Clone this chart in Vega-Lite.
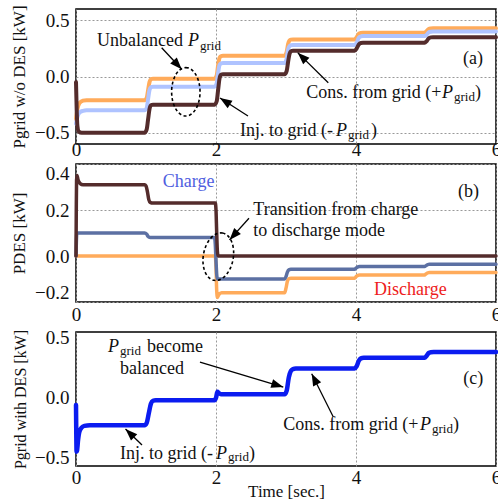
{
  "$schema": "https://vega.github.io/schema/vega-lite/v6.json",
  "background": "white",
  "padding": {"left": 9, "top": 4, "right": 0, "bottom": 0},
  "spacing": 3,
  "config": {
    "font": "Liberation Serif",
    "view": {"stroke": "black", "strokeWidth": 1.5},
    "axis": {
      "labelFont": "Liberation Serif", "labelFontSize": 19, "labelColor": "#111",
      "titleFont": "Liberation Serif", "titleFontSize": 17, "titleFontWeight": "normal", "titleColor": "#111",
      "domain": false, "ticks": false, "grid": true, "gridColor": "#999", "gridDash": [2, 2], "gridWidth": 1
    },
    "text": {"font": "Liberation Serif", "fontSize": 18, "align": "left", "baseline": "alphabetic", "color": "#111"},
    "line": {"strokeCap": "round", "strokeJoin": "round", "interpolate": "monotone", "clip": true}
  },
  "vconcat": [
    {
      "width": 420, "height": 135,
      "layer": [
        {
          "data": {"values": [
            {"t":0,"v":-0.38},{"t":0.02,"v":-0.29},{"t":0.05,"v":-0.235},{"t":0.1,"v":-0.215},{"t":0.15,"v":-0.21},{"t":0.98,"v":-0.21},{"t":1.01,"v":-0.19},{"t":1.03,"v":-0.12},{"t":1.05,"v":-0.05},{"t":1.07,"v":-0.025},{"t":1.1,"v":-0.02},{"t":1.98,"v":-0.02},{"t":2.01,"v":0.01},{"t":2.03,"v":0.1},{"t":2.05,"v":0.165},{"t":2.07,"v":0.18},{"t":2.1,"v":0.185},{"t":2.98,"v":0.185},{"t":3.01,"v":0.22},{"t":3.03,"v":0.29},{"t":3.05,"v":0.32},{"t":3.07,"v":0.328},{"t":3.1,"v":0.33},{"t":3.98,"v":0.33},{"t":4.01,"v":0.35},{"t":4.04,"v":0.38},{"t":4.07,"v":0.388},{"t":4.1,"v":0.39},{"t":4.98,"v":0.39},{"t":5.01,"v":0.405},{"t":5.04,"v":0.423},{"t":5.07,"v":0.428},{"t":5.1,"v":0.43},{"t":6,"v":0.43}
          ]},
          "mark": {"type": "line", "color": "#FFAB5B", "strokeWidth": 4},
          "encoding": {
            "x": {"field": "t", "type": "quantitative", "scale": {"domain": [0, 6], "nice": false, "zero": false}, "axis": {"values": [0, 2, 4, 6], "format": "d", "title": null, "labelPadding": -4, "labelFlush": false}},
            "y": {"field": "v", "type": "quantitative", "scale": {"domain": [-0.6, 0.6], "nice": false, "zero": false}, "axis": {"values": [-0.5, 0, 0.5], "format": ".1f", "title": "Pgrid w/o DES [kW]", "labelPadding": 7, "titlePadding": 6}}
          }
        },
        {
          "data": {"values": [
            {"t":0,"v":-0.42},{"t":0.02,"v":-0.36},{"t":0.05,"v":-0.32},{"t":0.1,"v":-0.305},{"t":0.15,"v":-0.3},{"t":0.98,"v":-0.3},{"t":1.01,"v":-0.28},{"t":1.03,"v":-0.2},{"t":1.05,"v":-0.12},{"t":1.07,"v":-0.095},{"t":1.1,"v":-0.09},{"t":1.98,"v":-0.09},{"t":2.01,"v":-0.06},{"t":2.03,"v":0.03},{"t":2.05,"v":0.1},{"t":2.07,"v":0.115},{"t":2.1,"v":0.12},{"t":2.98,"v":0.12},{"t":3.01,"v":0.16},{"t":3.03,"v":0.24},{"t":3.05,"v":0.27},{"t":3.07,"v":0.278},{"t":3.1,"v":0.28},{"t":3.98,"v":0.28},{"t":4.01,"v":0.3},{"t":4.04,"v":0.345},{"t":4.07,"v":0.357},{"t":4.1,"v":0.36},{"t":4.98,"v":0.36},{"t":5.01,"v":0.372},{"t":5.04,"v":0.393},{"t":5.07,"v":0.398},{"t":5.1,"v":0.4},{"t":6,"v":0.4}
          ]},
          "mark": {"type": "line", "color": "#AFC3FF", "strokeWidth": 4},
          "encoding": {
            "x": {"field": "t", "type": "quantitative", "scale": {"domain": [0, 6], "nice": false, "zero": false}},
            "y": {"field": "v", "type": "quantitative", "scale": {"domain": [-0.6, 0.6], "nice": false, "zero": false}}
          }
        },
        {
          "data": {"values": [
            {"t":0,"v":-0.05},{"t":0.01,"v":-0.3},{"t":0.02,"v":-0.44},{"t":0.04,"v":-0.49},{"t":0.08,"v":-0.5},{"t":0.98,"v":-0.5},{"t":1.01,"v":-0.47},{"t":1.03,"v":-0.38},{"t":1.05,"v":-0.29},{"t":1.07,"v":-0.255},{"t":1.1,"v":-0.25},{"t":1.98,"v":-0.25},{"t":2.01,"v":-0.22},{"t":2.03,"v":-0.12},{"t":2.05,"v":-0.02},{"t":2.07,"v":0.015},{"t":2.1,"v":0.02},{"t":2.98,"v":0.02},{"t":3.01,"v":0.05},{"t":3.03,"v":0.13},{"t":3.05,"v":0.2},{"t":3.07,"v":0.225},{"t":3.1,"v":0.23},{"t":3.98,"v":0.23},{"t":4.01,"v":0.25},{"t":4.04,"v":0.285},{"t":4.07,"v":0.298},{"t":4.1,"v":0.3},{"t":4.98,"v":0.3},{"t":5.01,"v":0.315},{"t":5.04,"v":0.34},{"t":5.07,"v":0.348},{"t":5.1,"v":0.35},{"t":6,"v":0.35}
          ]},
          "mark": {"type": "line", "color": "#542C2C", "strokeWidth": 4},
          "encoding": {
            "x": {"field": "t", "type": "quantitative", "scale": {"domain": [0, 6], "nice": false, "zero": false}},
            "y": {"field": "v", "type": "quantitative", "scale": {"domain": [-0.6, 0.6], "nice": false, "zero": false}}
          }
        },
        {
          "mark": {"type": "rule", "color": "#FF2020", "strokeDash": [2, 2], "strokeWidth": 1.5},
          "encoding": {"y": {"datum": 0, "type": "quantitative", "scale": {"domain": [-0.6, 0.6], "nice": false, "zero": false}}}
        },
        {
          "data": {"values": [
            {"t":1.224,"v":0.256,"t2":1.51,"v2":0.064},
            {"t":3.604,"v":-0.055,"t2":3.167,"v2":0.212},
            {"t":2.457,"v":-0.351,"t2":2.057,"v2":-0.191}
          ]},
          "mark": {"type": "rule", "color": "black", "strokeWidth": 1.3},
          "encoding": {
            "x": {"field": "t", "type": "quantitative", "scale": {"domain": [0, 6], "nice": false, "zero": false}},
            "y": {"field": "v", "type": "quantitative", "scale": {"domain": [-0.6, 0.6], "nice": false, "zero": false}},
            "x2": {"field": "t2"}, "y2": {"field": "v2"}
          }
        },
        {
          "data": {"values": [{"t":1.51,"v":0.064}]},
          "mark": {"type": "point", "shape": "M0,0L0.6,1.6L-0.6,1.6Z", "filled": true, "color": "black", "opacity": 1, "size": 225, "angle": 137},
          "encoding": {
            "x": {"field": "t", "type": "quantitative", "scale": {"domain": [0, 6], "nice": false, "zero": false}},
            "y": {"field": "v", "type": "quantitative", "scale": {"domain": [-0.6, 0.6], "nice": false, "zero": false}}
          }
        },
        {
          "data": {"values": [{"t":3.167,"v":0.212}]},
          "mark": {"type": "point", "shape": "M0,0L0.6,1.6L-0.6,1.6Z", "filled": true, "color": "black", "opacity": 1, "size": 225, "angle": -46},
          "encoding": {
            "x": {"field": "t", "type": "quantitative", "scale": {"domain": [0, 6], "nice": false, "zero": false}},
            "y": {"field": "v", "type": "quantitative", "scale": {"domain": [-0.6, 0.6], "nice": false, "zero": false}}
          }
        },
        {
          "data": {"values": [{"t":2.057,"v":-0.191}]},
          "mark": {"type": "point", "shape": "M0,0L0.6,1.6L-0.6,1.6Z", "filled": true, "color": "black", "opacity": 1, "size": 225, "angle": -57},
          "encoding": {
            "x": {"field": "t", "type": "quantitative", "scale": {"domain": [0, 6], "nice": false, "zero": false}},
            "y": {"field": "v", "type": "quantitative", "scale": {"domain": [-0.6, 0.6], "nice": false, "zero": false}}
          }
        },
        {
          "data": {"values": [{"t":1.569,"v":-0.136}]},
          "mark": {"type": "point", "shape": "M0,-1C0.324,-1 0.587,-0.552 0.587,0C0.587,0.552 0.324,1 0,1C-0.324,1 -0.587,0.552 -0.587,0C-0.587,-0.552 -0.324,-1 0,-1Z", "filled": false, "color": "black", "opacity": 1, "strokeWidth": 1.6, "strokeDash": [3, 2.5], "size": 2343},
          "encoding": {
            "x": {"field": "t", "type": "quantitative", "scale": {"domain": [0, 6], "nice": false, "zero": false}},
            "y": {"field": "v", "type": "quantitative", "scale": {"domain": [-0.6, 0.6], "nice": false, "zero": false}}
          }
        },
        {
          "data": {"values": [
            {"t":0.30,"v":0.271,"label":"Unbalanced"},
            {"t":3.29,"v":-0.191,"label":"Cons. from grid (+"},
            {"t":5.7,"v":-0.191,"label":")"},
            {"t":2.343,"v":-0.529,"label":"Inj. to grid (-"},
            {"t":4.214,"v":-0.529,"label":")"},
            {"t":5.529,"v":0.108,"label":"(a)"}
          ]},
          "mark": {"type": "text"},
          "encoding": {
            "x": {"field": "t", "type": "quantitative", "scale": {"domain": [0, 6], "nice": false, "zero": false}},
            "y": {"field": "v", "type": "quantitative", "scale": {"domain": [-0.6, 0.6], "nice": false, "zero": false}},
            "text": {"field": "label"}
          }
        },
        {
          "data": {"values": [
            {"t":1.6,"v":0.271,"label":"P"},
            {"t":5.229,"v":-0.191,"label":"P"},
            {"t":3.714,"v":-0.529,"label":"P"}
          ]},
          "mark": {"type": "text", "fontStyle": "italic"},
          "encoding": {
            "x": {"field": "t", "type": "quantitative", "scale": {"domain": [0, 6], "nice": false, "zero": false}},
            "y": {"field": "v", "type": "quantitative", "scale": {"domain": [-0.6, 0.6], "nice": false, "zero": false}},
            "text": {"field": "label"}
          }
        },
        {
          "data": {"values": [
            {"t":1.771,"v":0.236,"label":"grid"},
            {"t":5.4,"v":-0.218,"label":"grid"},
            {"t":3.886,"v":-0.556,"label":"grid"}
          ]},
          "mark": {"type": "text", "fontSize": 13},
          "encoding": {
            "x": {"field": "t", "type": "quantitative", "scale": {"domain": [0, 6], "nice": false, "zero": false}},
            "y": {"field": "v", "type": "quantitative", "scale": {"domain": [-0.6, 0.6], "nice": false, "zero": false}},
            "text": {"field": "label"}
          }
        }
      ]
    },
    {
      "width": 420, "height": 138,
      "layer": [
        {
          "data": {"values": [
            {"t":0,"v":0},{"t":1.99,"v":0},{"t":2.0,"v":-0.05},{"t":2.01,"v":-0.15},{"t":2.02,"v":-0.18},{"t":2.04,"v":-0.168},{"t":2.08,"v":-0.16},{"t":2.98,"v":-0.16},{"t":3.0,"v":-0.14},{"t":3.02,"v":-0.11},{"t":3.04,"v":-0.099},{"t":3.07,"v":-0.097},{"t":3.98,"v":-0.097},{"t":4.0,"v":-0.09},{"t":4.02,"v":-0.085},{"t":4.05,"v":-0.083},{"t":4.98,"v":-0.083},{"t":5.0,"v":-0.078},{"t":5.02,"v":-0.074},{"t":5.05,"v":-0.072},{"t":6,"v":-0.072}
          ]},
          "mark": {"type": "line", "color": "#FFAB5B", "strokeWidth": 3.5},
          "encoding": {
            "x": {"field": "t", "type": "quantitative", "scale": {"domain": [0, 6], "nice": false, "zero": false}, "axis": {"values": [0, 2, 4, 6], "format": "d", "title": null, "labelPadding": 3, "labelFlush": false}},
            "y": {"field": "v", "type": "quantitative", "scale": {"domain": [-0.2, 0.4], "nice": false, "zero": false}, "axis": {"values": [-0.2, 0, 0.2, 0.4], "format": ".1f", "title": "PDES [kW]", "labelPadding": 7, "titlePadding": 6, "labelFlush": true}}
          }
        },
        {
          "data": {"values": [
            {"t":0,"v":0},{"t":0.005,"v":0.06},{"t":0.01,"v":0.095},{"t":0.02,"v":0.1},{"t":0.98,"v":0.1},{"t":1.01,"v":0.095},{"t":1.03,"v":0.085},{"t":1.05,"v":0.081},{"t":1.08,"v":0.08},{"t":1.98,"v":0.08},{"t":1.99,"v":0.05},{"t":2.0,"v":-0.02},{"t":2.01,"v":-0.08},{"t":2.02,"v":-0.1},{"t":2.98,"v":-0.1},{"t":3.0,"v":-0.09},{"t":3.02,"v":-0.07},{"t":3.04,"v":-0.06},{"t":3.07,"v":-0.058},{"t":3.98,"v":-0.058},{"t":4.0,"v":-0.053},{"t":4.02,"v":-0.048},{"t":4.05,"v":-0.046},{"t":4.98,"v":-0.046},{"t":5.0,"v":-0.042},{"t":5.02,"v":-0.038},{"t":5.05,"v":-0.036},{"t":6,"v":-0.036}
          ]},
          "mark": {"type": "line", "color": "#5C70A3", "strokeWidth": 3.5},
          "encoding": {
            "x": {"field": "t", "type": "quantitative", "scale": {"domain": [0, 6], "nice": false, "zero": false}},
            "y": {"field": "v", "type": "quantitative", "scale": {"domain": [-0.2, 0.4], "nice": false, "zero": false}}
          }
        },
        {
          "data": {"values": [
            {"t":0,"v":0},{"t":0.004,"v":0.2},{"t":0.008,"v":0.33},{"t":0.015,"v":0.35},{"t":0.03,"v":0.33},{"t":0.06,"v":0.315},{"t":0.1,"v":0.31},{"t":0.98,"v":0.31},{"t":1.0,"v":0.305},{"t":1.02,"v":0.28},{"t":1.04,"v":0.245},{"t":1.06,"v":0.233},{"t":1.1,"v":0.23},{"t":1.99,"v":0.23},{"t":2.0,"v":0.2},{"t":2.01,"v":0.1},{"t":2.02,"v":0.02},{"t":2.03,"v":0},{"t":6,"v":0}
          ]},
          "mark": {"type": "line", "color": "#542C2C", "strokeWidth": 3.5},
          "encoding": {
            "x": {"field": "t", "type": "quantitative", "scale": {"domain": [0, 6], "nice": false, "zero": false}},
            "y": {"field": "v", "type": "quantitative", "scale": {"domain": [-0.2, 0.4], "nice": false, "zero": false}}
          }
        },
        {
          "mark": {"type": "rule", "color": "#FF2020", "strokeDash": [2, 2], "strokeWidth": 1.5},
          "encoding": {"y": {"datum": 0, "type": "quantitative", "scale": {"domain": [-0.2, 0.4], "nice": false, "zero": false}}}
        },
        {
          "data": {"values": [{"t":2.471,"v":0.164,"t2":2.193,"v2":0.070}]},
          "mark": {"type": "rule", "color": "black", "strokeWidth": 1.3},
          "encoding": {
            "x": {"field": "t", "type": "quantitative", "scale": {"domain": [0, 6], "nice": false, "zero": false}},
            "y": {"field": "v", "type": "quantitative", "scale": {"domain": [-0.2, 0.4], "nice": false, "zero": false}},
            "x2": {"field": "t2"}, "y2": {"field": "v2"}
          }
        },
        {
          "data": {"values": [{"t":2.193,"v":0.070}]},
          "mark": {"type": "point", "shape": "M0,0L0.6,1.6L-0.6,1.6Z", "filled": true, "color": "black", "opacity": 1, "size": 225, "angle": -138},
          "encoding": {
            "x": {"field": "t", "type": "quantitative", "scale": {"domain": [0, 6], "nice": false, "zero": false}},
            "y": {"field": "v", "type": "quantitative", "scale": {"domain": [-0.2, 0.4], "nice": false, "zero": false}}
          }
        },
        {
          "data": {"values": [{"t":2.033,"v":-0.003}]},
          "mark": {"type": "point", "shape": "M0,-1C0.345,-1 0.625,-0.552 0.625,0C0.625,0.552 0.345,1 0,1C-0.345,1 -0.625,0.552 -0.625,0C-0.625,-0.552 -0.345,-1 0,-1Z", "filled": false, "color": "black", "opacity": 1, "strokeWidth": 1.6, "strokeDash": [3, 2.5], "size": 2304, "angle": 10},
          "encoding": {
            "x": {"field": "t", "type": "quantitative", "scale": {"domain": [0, 6], "nice": false, "zero": false}},
            "y": {"field": "v", "type": "quantitative", "scale": {"domain": [-0.2, 0.4], "nice": false, "zero": false}}
          }
        },
        {
          "data": {"values": [
            {"t":2.533,"v":0.178,"label":"Transition from charge"},
            {"t":2.533,"v":0.087,"label":"to discharge mode"},
            {"t":5.457,"v":0.255,"label":"(b)"}
          ]},
          "mark": {"type": "text"},
          "encoding": {
            "x": {"field": "t", "type": "quantitative", "scale": {"domain": [0, 6], "nice": false, "zero": false}},
            "y": {"field": "v", "type": "quantitative", "scale": {"domain": [-0.2, 0.4], "nice": false, "zero": false}},
            "text": {"field": "label"}
          }
        },
        {
          "data": {"values": [{"t":1.239,"v":0.301,"label":"Charge"}]},
          "mark": {"type": "text", "color": "#5060E0"},
          "encoding": {
            "x": {"field": "t", "type": "quantitative", "scale": {"domain": [0, 6], "nice": false, "zero": false}},
            "y": {"field": "v", "type": "quantitative", "scale": {"domain": [-0.2, 0.4], "nice": false, "zero": false}},
            "text": {"field": "label"}
          }
        },
        {
          "data": {"values": [{"t":4.257,"v":-0.170,"label":"Discharge"}]},
          "mark": {"type": "text", "color": "#EE1C1C"},
          "encoding": {
            "x": {"field": "t", "type": "quantitative", "scale": {"domain": [0, 6], "nice": false, "zero": false}},
            "y": {"field": "v", "type": "quantitative", "scale": {"domain": [-0.2, 0.4], "nice": false, "zero": false}},
            "text": {"field": "label"}
          }
        }
      ]
    },
    {
      "width": 420, "height": 134,
      "layer": [
        {
          "data": {"values": [
            {"t":0,"v":-0.06},{"t":0.004,"v":-0.3},{"t":0.008,"v":-0.45},{"t":0.015,"v":-0.44},{"t":0.03,"v":-0.35},{"t":0.05,"v":-0.28},{"t":0.08,"v":-0.25},{"t":0.12,"v":-0.235},{"t":0.2,"v":-0.23},{"t":0.98,"v":-0.23},{"t":1.01,"v":-0.21},{"t":1.04,"v":-0.13},{"t":1.07,"v":-0.05},{"t":1.1,"v":-0.025},{"t":1.14,"v":-0.02},{"t":1.98,"v":-0.02},{"t":2.0,"v":0.0},{"t":2.02,"v":0.05},{"t":2.04,"v":0.04},{"t":2.07,"v":0.03},{"t":2.98,"v":0.03},{"t":3.01,"v":0.06},{"t":3.04,"v":0.17},{"t":3.07,"v":0.225},{"t":3.1,"v":0.24},{"t":3.14,"v":0.245},{"t":3.98,"v":0.245},{"t":4.01,"v":0.265},{"t":4.04,"v":0.31},{"t":4.07,"v":0.33},{"t":4.11,"v":0.335},{"t":4.98,"v":0.335},{"t":5.01,"v":0.352},{"t":5.04,"v":0.375},{"t":5.07,"v":0.381},{"t":5.11,"v":0.383},{"t":6,"v":0.383}
          ]},
          "mark": {"type": "line", "color": "#0B1CF0", "strokeWidth": 4.5},
          "encoding": {
            "x": {"field": "t", "type": "quantitative", "scale": {"domain": [0, 6], "nice": false, "zero": false}, "axis": {"values": [0, 2, 4, 6], "format": "d", "title": "Time [sec.]", "labelPadding": 2, "titlePadding": -4, "labelFlush": false}},
            "y": {"field": "v", "type": "quantitative", "scale": {"domain": [-0.57, 0.55], "nice": false, "zero": false}, "axis": {"values": [-0.5, 0, 0.5], "format": ".1f", "title": "Pgrid with DES [kW]", "labelPadding": 7, "titlePadding": 6, "grid": false, "titleFontSize": 16}}
          }
        },
        {
          "mark": {"type": "rule", "color": "#FF2020", "strokeDash": [2, 2], "strokeWidth": 1.5},
          "encoding": {"y": {"datum": 0, "type": "quantitative", "scale": {"domain": [-0.57, 0.55], "nice": false, "zero": false}}}
        },
        {
          "data": {"values": [
            {"t":1.771,"v":0.299,"t2":2.961,"v2":0.090},
            {"t":3.676,"v":-0.161,"t2":3.367,"v2":0.2015},
            {"t":0.943,"v":-0.395,"t2":0.707,"v2":-0.261}
          ]},
          "mark": {"type": "rule", "color": "black", "strokeWidth": 1.3},
          "encoding": {
            "x": {"field": "t", "type": "quantitative", "scale": {"domain": [0, 6], "nice": false, "zero": false}},
            "y": {"field": "v", "type": "quantitative", "scale": {"domain": [-0.57, 0.55], "nice": false, "zero": false}},
            "x2": {"field": "t2"}, "y2": {"field": "v2"}
          }
        },
        {
          "data": {"values": [{"t":2.961,"v":0.090}]},
          "mark": {"type": "point", "shape": "M0,0L0.6,1.6L-0.6,1.6Z", "filled": true, "color": "black", "opacity": 1, "size": 225, "angle": 107},
          "encoding": {
            "x": {"field": "t", "type": "quantitative", "scale": {"domain": [0, 6], "nice": false, "zero": false}},
            "y": {"field": "v", "type": "quantitative", "scale": {"domain": [-0.57, 0.55], "nice": false, "zero": false}}
          }
        },
        {
          "data": {"values": [{"t":3.367,"v":0.2015}]},
          "mark": {"type": "point", "shape": "M0,0L0.6,1.6L-0.6,1.6Z", "filled": true, "color": "black", "opacity": 1, "size": 225, "angle": -27},
          "encoding": {
            "x": {"field": "t", "type": "quantitative", "scale": {"domain": [0, 6], "nice": false, "zero": false}},
            "y": {"field": "v", "type": "quantitative", "scale": {"domain": [-0.57, 0.55], "nice": false, "zero": false}}
          }
        },
        {
          "data": {"values": [{"t":0.707,"v":-0.261}]},
          "mark": {"type": "point", "shape": "M0,0L0.6,1.6L-0.6,1.6Z", "filled": true, "color": "black", "opacity": 1, "size": 225, "angle": -46},
          "encoding": {
            "x": {"field": "t", "type": "quantitative", "scale": {"domain": [0, 6], "nice": false, "zero": false}},
            "y": {"field": "v", "type": "quantitative", "scale": {"domain": [-0.57, 0.55], "nice": false, "zero": false}}
          }
        },
        {
          "data": {"values": [
            {"t":1.014,"v":0.383,"label":"become"},
            {"t":0.629,"v":0.2015,"label":"balanced"},
            {"t":2.961,"v":-0.272,"label":"Cons. from grid (+"},
            {"t":5.386,"v":-0.272,"label":")"},
            {"t":0.629,"v":-0.509,"label":"Inj. to grid (-"},
            {"t":2.471,"v":-0.509,"label":")"},
            {"t":5.533,"v":0.118,"label":"(c)"}
          ]},
          "mark": {"type": "text"},
          "encoding": {
            "x": {"field": "t", "type": "quantitative", "scale": {"domain": [0, 6], "nice": false, "zero": false}},
            "y": {"field": "v", "type": "quantitative", "scale": {"domain": [-0.57, 0.55], "nice": false, "zero": false}},
            "text": {"field": "label"}
          }
        },
        {
          "data": {"values": [
            {"t":0.457,"v":0.383,"label":"P"},
            {"t":4.914,"v":-0.272,"label":"P"},
            {"t":2.0,"v":-0.509,"label":"P"}
          ]},
          "mark": {"type": "text", "fontStyle": "italic"},
          "encoding": {
            "x": {"field": "t", "type": "quantitative", "scale": {"domain": [0, 6], "nice": false, "zero": false}},
            "y": {"field": "v", "type": "quantitative", "scale": {"domain": [-0.57, 0.55], "nice": false, "zero": false}},
            "text": {"field": "label"}
          }
        },
        {
          "data": {"values": [
            {"t":0.629,"v":0.358,"label":"grid"},
            {"t":5.086,"v":-0.294,"label":"grid"},
            {"t":2.171,"v":-0.528,"label":"grid"}
          ]},
          "mark": {"type": "text", "fontSize": 13},
          "encoding": {
            "x": {"field": "t", "type": "quantitative", "scale": {"domain": [0, 6], "nice": false, "zero": false}},
            "y": {"field": "v", "type": "quantitative", "scale": {"domain": [-0.57, 0.55], "nice": false, "zero": false}},
            "text": {"field": "label"}
          }
        }
      ]
    }
  ]
}
